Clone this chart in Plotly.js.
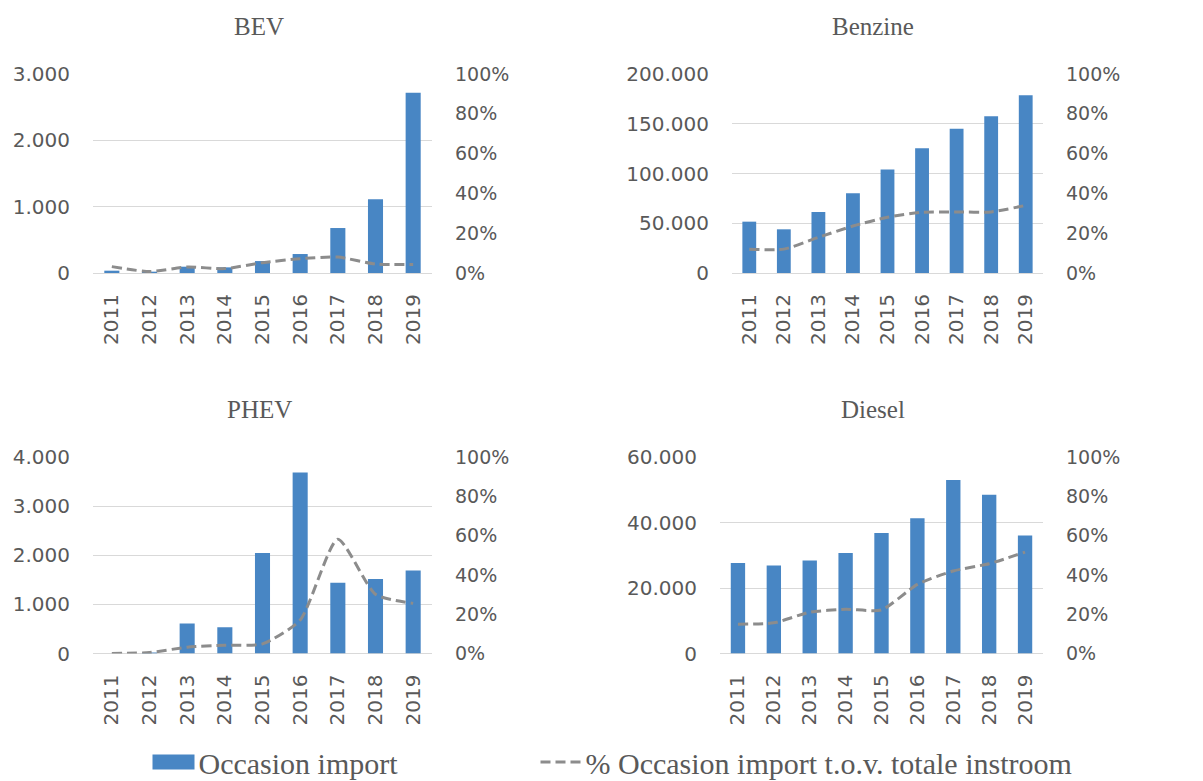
<!DOCTYPE html>
<html>
<head>
<meta charset="utf-8">
<script src="https://cdn.plot.ly/plotly-3.0.1.min.js"></script>
<style>html,body{margin:0;padding:0;background:#fff;}#chart{width:1203px;height:781px;}</style>
</head>
<body>
<div id="chart"></div>
<script>
const years = ['2011','2012','2013','2014','2015','2016','2017','2018','2019'];

const bevImport = [35, 20, 95, 85, 180, 286, 678, 1111, 2718];
const bevShare = [0.032, 0.007, 0.030, 0.022, 0.052, 0.072, 0.080, 0.045, 0.043];

const benzineImport = [51600, 43900, 61300, 80100, 103900, 125300, 145000, 157500, 178600];
const benzineShare = [0.119, 0.120, 0.179, 0.236, 0.280, 0.305, 0.307, 0.307, 0.340];

const phevImport = [2, 20, 609, 535, 2044, 3682, 1442, 1516, 1692];
const phevShare = [0.000, 0.005, 0.032, 0.042, 0.049, 0.170, 0.582, 0.301, 0.255];

const dieselImport = [27600, 26900, 28400, 30700, 36800, 41300, 53000, 48500, 36000];
const dieselShare = [0.149, 0.156, 0.210, 0.225, 0.222, 0.352, 0.420, 0.457, 0.516];

const panelTitles = ['BEV', 'Benzine', 'PHEV', 'Diesel'];
const legendNames = ['Occasion import', '% Occasion import t.o.v. totale instroom'];
const leftRanges = [[0, 3000], [0, 200000], [0, 4000], [0, 60000]];
const leftDticks = [1000, 50000, 1000, 20000];

const W = 1203, H = 781;
const px = v => v / W;
const py = v => 1 - v / H;

const panels = [
  {imp: bevImport, share: bevShare, x: [93, 432], y: [273, 74], tx: 259, ty: 27},
  {imp: benzineImport, share: benzineShare, x: [732, 1043], y: [273, 74], tx: 873, ty: 27},
  {imp: phevImport, share: phevShare, x: [93, 432], y: [653.5, 457], tx: 259, ty: 410},
  {imp: dieselImport, share: dieselShare, x: [720, 1043], y: [653.5, 457], tx: 873, ty: 410}
];

const barColor = '#4886C4';
const lineColor = '#8C8C8C';
const textColor = '#595959';
const tickFont = {family: 'DejaVu Sans, sans-serif', size: 20, color: textColor};
const serif = 'Liberation Serif, serif';
const legendFont = {family: serif, size: 30, color: textColor};

const data = [];
const layout = {
  width: W, height: H,
  margin: {l: 0, r: 0, t: 0, b: 0, autoexpand: false},
  paper_bgcolor: '#ffffff',
  plot_bgcolor: 'rgba(0,0,0,0)',
  separators: ',.',
  showlegend: true,
  bargap: 0.6,
  legend: {
    orientation: 'h', x: px(148.5), y: py(762), xanchor: 'left', yanchor: 'middle',
    font: legendFont, itemwidth: 40
  },
  legend2: {
    orientation: 'h', x: px(535.5), y: py(762), xanchor: 'left', yanchor: 'middle',
    font: legendFont, itemwidth: 40
  },
  annotations: [],
  font: {family: serif, color: textColor}
};

panels.forEach((p, i) => {
  const n = i + 1;
  const xa = 'x' + (n === 1 ? '' : n);
  const yl = 'y' + (2 * n - 1 === 1 ? '' : 2 * n - 1);
  const yr = 'y' + (2 * n);
  data.push({
    type: 'bar', x: years, y: p.imp, name: legendNames[0],
    xaxis: xa, yaxis: yl, marker: {color: barColor},
    showlegend: i === 0, legend: 'legend', hoverinfo: 'x+y'
  });
  data.push({
    type: 'scatter', mode: 'lines', x: years, y: p.share, name: legendNames[1],
    xaxis: xa, yaxis: yr,
    line: {color: lineColor, width: 3, dash: '10px,5px', shape: 'spline', smoothing: 0.6},
    showlegend: i === 0, legend: 'legend2'
  });
  const xkey = 'xaxis' + (n === 1 ? '' : n);
  const ylkey = 'yaxis' + (2 * n - 1 === 1 ? '' : 2 * n - 1);
  const yrkey = 'yaxis' + (2 * n);
  layout[xkey] = {
    domain: [px(p.x[0]), px(p.x[1])], anchor: yl, type: 'category',
    tickangle: -90, tickfont: tickFont, showgrid: false, zeroline: false,
    showline: false, ticks: '', ticklabelstandoff: 16, fixedrange: true
  };
  layout[ylkey] = {
    domain: [py(p.y[0]), py(p.y[1])], anchor: xa, range: leftRanges[i],
    dtick: leftDticks[i], tickformat: ',d', tickfont: tickFont,
    showgrid: true, gridcolor: '#D9D9D9', gridwidth: 1,
    zeroline: true, zerolinecolor: '#D9D9D9', zerolinewidth: 1,
    showline: false, ticks: '', ticklabelstandoff: 22, fixedrange: true
  };
  layout[yrkey] = {
    domain: [py(p.y[0]), py(p.y[1])], anchor: xa, overlaying: yl, side: 'right',
    range: [0, 1], dtick: 0.2, tickformat: '.0%', tickfont: {family: 'DejaVu Sans, sans-serif', size: 19, color: textColor},
    showgrid: false, zeroline: false, showline: false, ticks: '',
    ticklabelstandoff: 22, fixedrange: true
  };
  layout.annotations.push({
    text: panelTitles[i], xref: 'paper', yref: 'paper',
    x: px(p.tx), y: py(p.ty), xanchor: 'center', yanchor: 'middle',
    showarrow: false, font: {family: serif, size: 25, color: textColor}
  });
});

Plotly.newPlot('chart', data, layout, {displayModeBar: false, staticPlot: true}).then(gd => {
  // widen the bar legend swatch to a wide rectangle like the original
  gd.querySelectorAll('.legendpoints .legendbar path, .legendpoints path.legendundefined')
    .forEach(b => b.setAttribute('d', 'M21,7.5H-21V-7.5H21Z'));
});
</script>
</body>
</html>
